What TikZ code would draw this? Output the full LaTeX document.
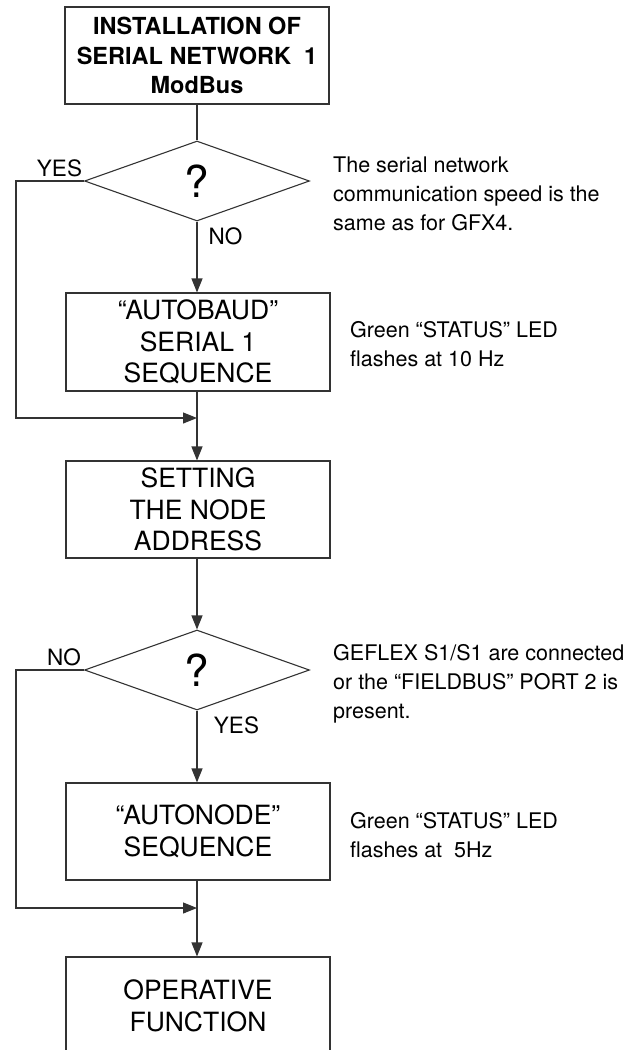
\documentclass[tikz,border=0pt]{standalone}
\usepackage{fontspec}
\setmainfont{TeX Gyre Heros}
\usetikzlibrary{shapes.geometric,arrows.meta}
\begin{document}
\begin{tikzpicture}[x=1pt,y=-1pt,
  line/.style={draw=black!80,line width=1.1pt},
  arr/.style={line,-{Triangle[length=14pt,width=11pt]}},
  procbox/.style={line,rectangle,minimum width=264pt,align=center,inner sep=0pt,font=\fontsize{26.5}{31.5}\selectfont},
  titlebox/.style={procbox,font=\fontsize{23.5}{29.5}\selectfont\bfseries},
  decision/.style={line,diamond,minimum width=225pt,minimum height=80pt,inner sep=0pt,font=\fontsize{44}{44}\selectfont},
  lbl/.style={inner sep=0pt,font=\fontsize{22.5}{26}\selectfont},
  note/.style={inner sep=0pt,anchor=west,align=left,font=\fontsize{21.5}{29}\selectfont}]
\useasboundingbox (0,0) rectangle (641,1050);
% boxes
\node[titlebox,minimum height=97pt] (top) at (197,55.5) {INSTALLATION OF\\SERIAL NETWORK\ \ 1\\ModBus};
\node[decision] (d1) at (197,181) {?};
\node[procbox,minimum height=98pt] (b2) at (198,342) {“AUTOBAUD”\\SERIAL 1\\SEQUENCE};
\node[procbox,minimum height=97pt] (b3) at (198,509.5) {SETTING\\THE NODE\\ADDRESS};
\node[decision] (d2) at (197,670) {?};
\node[procbox,minimum height=97pt] (b4) at (198,831.5) {“AUTONODE”\\SEQUENCE};
\node[procbox,minimum height=98pt] (b5) at (198,1006) {OPERATIVE\\FUNCTION};
% labels
\node[lbl] (yes1) at (59.5,168.5) {YES};
\node[lbl] (no1) at (225.5,236) {NO};
\node[lbl] (no2) at (64,657.5) {NO};
\node[lbl] (yes2) at (236.5,725.5) {YES};
% notes
\node[note] (n1) at (333,194) {The serial network\\communication speed is the\\same as for GFX4.};
\node[note] (n2) at (350,344) {Green “STATUS” LED\\flashes at 10 Hz};
\node[note] (n3) at (333,684) {GEFLEX S1/S1 are connected\\or the “FIELDBUS” PORT 2 is\\present.};
\node[note] (n4) at (350,835) {Green “STATUS” LED\\flashes at\ \ 5Hz};
% junctions
\coordinate (j1) at (197,418);
\coordinate (l1) at (16,418);
\coordinate (j2) at (197,908);
\coordinate (l2) at (16,908);
% connectors
\draw[line] (top.south) -- (d1.north);
\draw[arr] (d1.south) -- (d1.south |- b2.north);
\draw[arr] (d1.south |- b2.south) -- (d1.south |- b3.north);
\draw[arr] (d1.west) -| (l1) -- (j1);
\draw[arr] (d1.south |- b3.south) -- (d2.north);
\draw[arr] (d2.south) -- (d2.south |- b4.north);
\draw[arr] (d2.south |- b4.south) -- (d2.south |- b5.north);
\draw[arr] (d2.west) -| (l2) -- (j2);
\end{tikzpicture}
\end{document}
